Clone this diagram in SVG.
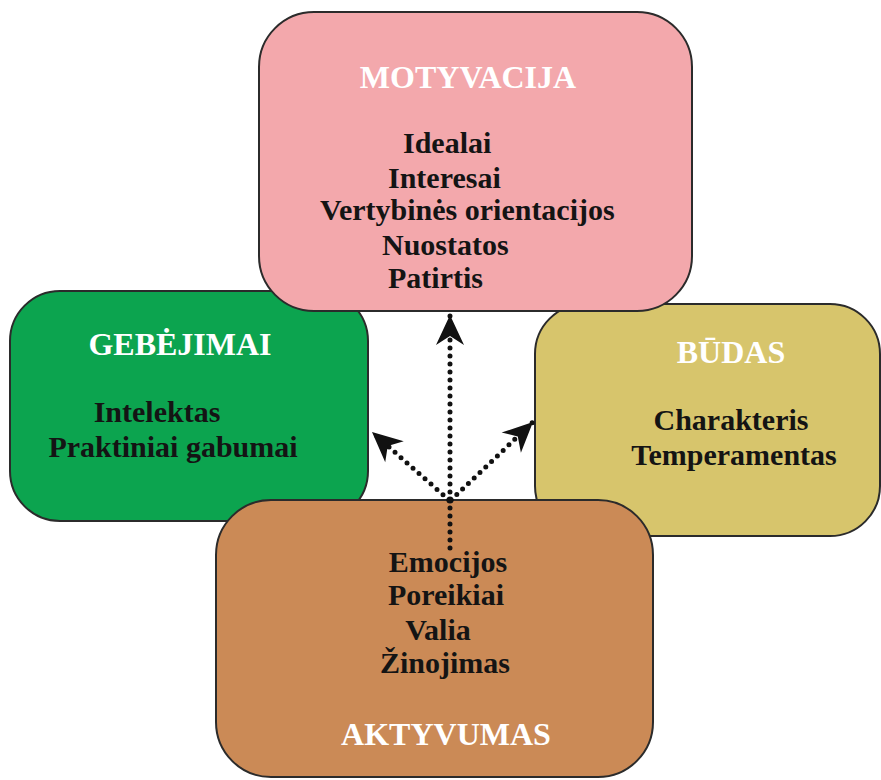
<svg xmlns="http://www.w3.org/2000/svg" width="881" height="780" viewBox="0 0 881 780">
<style>
.box{stroke:#2b2b2b;stroke-width:2}
.hd{font-family:"Liberation Serif","Times New Roman",serif;font-weight:bold;font-size:32px;fill:#ffffff}
.tx{font-family:"Liberation Serif","Times New Roman",serif;font-weight:bold;font-size:30px;fill:#141414}
.dot{fill:none;stroke:#111;stroke-width:5;stroke-linecap:round;stroke-dasharray:0 8}
</style>
<defs>
<marker id="ah" markerUnits="userSpaceOnUse" markerWidth="34" markerHeight="34" viewBox="-32 -17 34 34" refX="0" refY="0" orient="auto">
<path d="M0,0 L-30,-14 L-21,0 L-30,14 Z" fill="#111"/>
</marker>
</defs>
<rect width="881" height="780" fill="#ffffff"/>
<g id="gebejimai">
<rect class="box" x="10" y="291" width="358" height="230" rx="50" fill="#0ca44f"/>
<text class="hd" x="180" y="355" text-anchor="middle">GEBĖJIMAI</text>
<text class="tx" x="157" y="422" text-anchor="middle">Intelektas</text>
<text class="tx" x="173" y="457" text-anchor="middle">Praktiniai gabumai</text>
</g>
<g id="budas">
<rect class="box" x="535" y="304" width="345" height="232" rx="50" fill="#d7c56c"/>
<text class="hd" x="731" y="363" text-anchor="middle">BŪDAS</text>
<text class="tx" x="731" y="430" text-anchor="middle">Charakteris</text>
<text class="tx" x="734" y="465" text-anchor="middle">Temperamentas</text>
</g>
<g id="motyvacija">
<rect class="box" x="259" y="12" width="433" height="299" rx="55" fill="#f3a8ac"/>
<text class="hd" x="468" y="88" text-anchor="middle">MOTYVACIJA</text>
<text class="tx" x="403" y="153">Idealai</text>
<text class="tx" x="388" y="188">Interesai</text>
<text class="tx" x="320" y="220">Vertybinės orientacijos</text>
<text class="tx" x="382" y="255">Nuostatos</text>
<text class="tx" x="388" y="288">Patirtis</text>
</g>
<g id="aktyvumas">
<rect class="box" x="216" y="500" width="437" height="277" rx="55" fill="#cb8a56"/>
<text class="tx" x="448" y="572" text-anchor="middle">Emocijos</text>
<text class="tx" x="446" y="605" text-anchor="middle">Poreikiai</text>
<text class="tx" x="438" y="640" text-anchor="middle">Valia</text>
<text class="tx" x="445" y="673" text-anchor="middle">Žinojimas</text>
<text class="hd" x="446" y="745" text-anchor="middle">AKTYVUMAS</text>
</g>
<g id="connectors">
<line class="dot" x1="450" y1="548" x2="450" y2="500"/>
<line class="dot" x1="450" y1="500" x2="450" y2="315" marker-end="url(#ah)"/>
<line class="dot" x1="449" y1="500" x2="372" y2="432" marker-end="url(#ah)"/>
<line class="dot" x1="451" y1="500" x2="533" y2="422" marker-end="url(#ah)"/>
<circle cx="450" cy="500" r="3.5" fill="#111"/>
</g>
</svg>
